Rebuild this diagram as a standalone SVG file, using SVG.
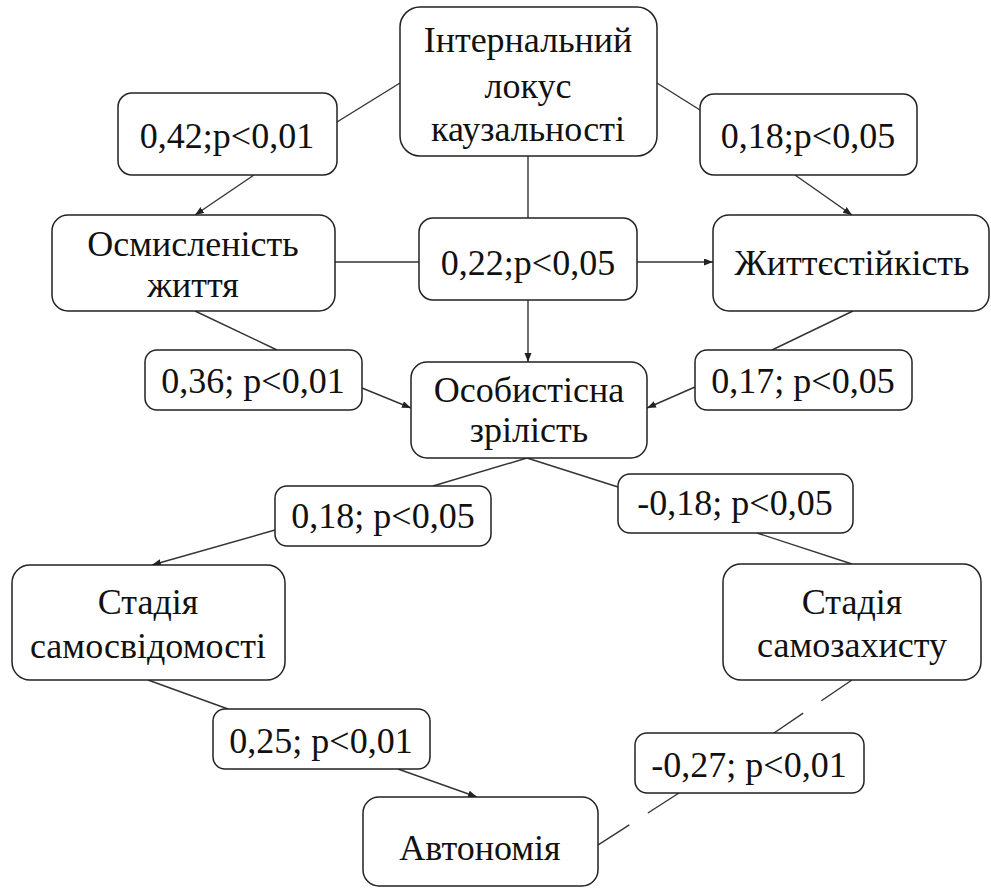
<svg xmlns="http://www.w3.org/2000/svg" width="991" height="890" viewBox="0 0 991 890">
<style>
.box{fill:#fff;stroke:#222;stroke-width:1.5}
.c{stroke:#333;stroke-width:1.4;fill:none}
.a{marker-end:url(#ah)}
.d{stroke-dasharray:37 22}
</style>
<defs>
<marker id="ah" markerUnits="userSpaceOnUse" markerWidth="10" markerHeight="8" refX="9" refY="3.5" orient="auto">
<path d="M0,0 L9,3.5 L0,7 z" fill="#222"/>
</marker>
</defs>
<rect width="991" height="890" fill="#fff"/>
<g id="connectors">
<line class="c" x1="400" y1="83" x2="337" y2="122"/>
<line class="c a" x1="254" y1="175" x2="195" y2="215"/>
<line class="c" x1="657" y1="83" x2="700" y2="110"/>
<line class="c a" x1="795" y1="175" x2="852" y2="215"/>
<line class="c" x1="528" y1="156" x2="528" y2="218"/>
<line class="c" x1="335" y1="262" x2="419" y2="262"/>
<line class="c a" x1="637" y1="262" x2="713" y2="262"/>
<line class="c a" x1="528" y1="300" x2="528" y2="362"/>
<line class="c" x1="195" y1="311" x2="277" y2="350"/>
<line class="c a" x1="362" y1="388" x2="411" y2="408"/>
<line class="c" x1="853" y1="311" x2="772" y2="350"/>
<line class="c a" x1="695" y1="387" x2="647" y2="408"/>
<line class="c" x1="527" y1="458" x2="433" y2="486"/>
<line class="c" x1="527" y1="458" x2="618" y2="487"/>
<line class="c a" x1="275" y1="530" x2="152" y2="565"/>
<line class="c" x1="757" y1="533" x2="852" y2="564"/>
<line class="c" x1="148" y1="680" x2="228" y2="709"/>
<line class="c a" x1="398" y1="769" x2="477" y2="797"/>
<line class="c d" x1="852" y1="680" x2="774" y2="733"/>
<line class="c d" x1="679" y1="793" x2="598" y2="845"/>
</g>
<g font-family="Liberation Serif, Times New Roman, serif" font-size="36" fill="#111" text-anchor="middle">
<g id="n-internal">
<rect class="box" x="400" y="7" width="257" height="149" rx="20"/>
<text x="528" y="52">Інтернальний</text>
<text x="528" y="98">локус</text>
<text x="528" y="141">каузальності</text>
</g>
<g id="l-042">
<rect class="box" x="118" y="93" width="219" height="82" rx="14"/>
<text x="227" y="148">0,42;p&lt;0,01</text>
</g>
<g id="l-018a">
<rect class="box" x="700" y="94" width="217" height="81" rx="14"/>
<text x="808" y="148">0,18;p&lt;0,05</text>
</g>
<g id="n-osmys">
<rect class="box" x="52" y="215" width="283" height="96" rx="16"/>
<text x="193" y="256">Осмисленість</text>
<text x="193" y="297">життя</text>
</g>
<g id="l-022">
<rect class="box" x="419" y="218" width="218" height="82" rx="14"/>
<text x="528" y="275">0,22;p&lt;0,05</text>
</g>
<g id="n-zhyt">
<rect class="box" x="713" y="215" width="276" height="96" rx="16"/>
<text x="852" y="275">Життєстійкість</text>
</g>
<g id="l-036">
<rect class="box" x="145" y="350" width="217" height="60" rx="12"/>
<text x="253" y="393">0,36; p&lt;0,01</text>
</g>
<g id="l-017">
<rect class="box" x="695" y="350" width="217" height="60" rx="12"/>
<text x="803" y="393">0,17; p&lt;0,05</text>
</g>
<g id="n-osob">
<rect class="box" x="411" y="362" width="236" height="96" rx="16"/>
<text x="529" y="402">Особистісна</text>
<text x="529" y="442">зрілість</text>
</g>
<g id="l-018b">
<rect class="box" x="275" y="486" width="216" height="60" rx="12"/>
<text x="383" y="528">0,18; p&lt;0,05</text>
</g>
<g id="l-m018">
<rect class="box" x="618" y="474" width="235" height="59" rx="12"/>
<text x="735" y="515">-0,18; p&lt;0,05</text>
</g>
<g id="n-samosv">
<rect class="box" x="12" y="565" width="273" height="115" rx="18"/>
<text x="148" y="614">Стадія</text>
<text x="148" y="658">самосвідомості</text>
</g>
<g id="n-samozakh">
<rect class="box" x="723" y="564" width="258" height="116" rx="18"/>
<text x="852" y="614">Стадія</text>
<text x="852" y="657">самозахисту</text>
</g>
<g id="l-025">
<rect class="box" x="213" y="709" width="217" height="60" rx="12"/>
<text x="321" y="753">0,25; p&lt;0,01</text>
</g>
<g id="l-m027">
<rect class="box" x="635" y="733" width="229" height="60" rx="12"/>
<text x="749" y="777">-0,27; p&lt;0,01</text>
</g>
<g id="n-avton">
<rect class="box" x="363" y="797" width="235" height="89" rx="16"/>
<text x="480" y="860">Автономія</text>
</g>
</g>
</svg>
